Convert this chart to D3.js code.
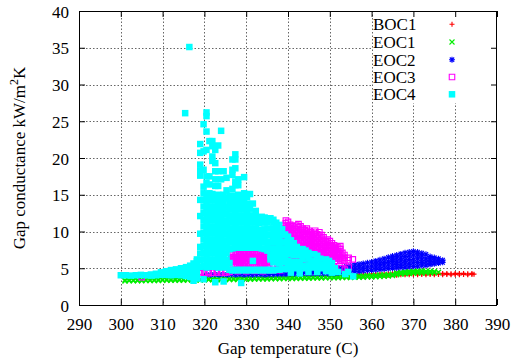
<!DOCTYPE html>
<html><head><meta charset="utf-8">
<script src="https://cdn.jsdelivr.net/npm/d3@7"></script>
<style>body{margin:0;background:#fff}text{font-family:"Liberation Serif","Times New Roman",serif}</style>
</head><body><svg id="chart" width="513" height="364"></svg>
<script>
const xTicks = [290,300,310,320,330,340,350,360,370,380,390];
const yTicks = [0,5,10,15,20,25,30,35,40];
const seriesNames = ["BOC1","EOC1","EOC2","EOC3","EOC4"];
const seriesColors = ["#ff0000","#00ee00","#0000ff","#ff00ff","#00ffff"];

// Each column: [gap temperature, conductance values...]
const boc1 = [[356,3.9,4.1],[357,3.95,4.1],[358,3.95,4.15],[359,4.0,4.15],[360,4.0,4.2],[361,4.0,4.15],[362,4.05,4.2],[363,4.0,4.2],[364,4.05,4.25],[365,4.1,4.25],[366,4.05,4.25],[367,4.1,4.3],[368,4.1,4.25],[369,4.1,4.3],[370,4.15,4.3],[371,4.1,4.3],[372,4.15,4.3],[373,4.1,4.3],[374,4.15,4.3],[375,4.1,4.3],[376,4.15,4.3],[377,4.1,4.3],[378,4.15,4.3],[379,4.1,4.25],[380,4.15,4.3],[381,4.1,4.3],[382,4.15,4.3],[383,4.1,4.25],[384,4.15,4.3],[384.5,4.2]];

const eoc1 = [[301,3.28,3.4],[302,3.3,3.42],[303,3.3,3.4],[304,3.31,3.43],[305,3.3,3.42],[306,3.32,3.44],[307,3.33,3.43],[308,3.33,3.45],[309,3.34,3.46],[310,3.35,3.47],[311,3.35,3.46],[312,3.36,3.48],[313,3.37,3.49],[314,3.37,3.5],[315,3.38,3.5],[316,3.39,3.52],[317,3.4,3.52],[318,3.4,3.53],[319,3.41,3.54],[320,3.42,3.55],[321,3.43,3.56],[322,3.43,3.57],[323,3.44,3.58],[324,3.45,3.58],[325,3.46,3.6],[326,3.46,3.6],[327,3.47,3.62],[328,3.48,3.63],[329,3.49,3.64],[330,3.5,3.65],[331,3.51,3.66],[332,3.52,3.67],[333,3.53,3.68],[334,3.54,3.69],[335,3.55,3.7],[336,3.56,3.71],[337,3.57,3.72],[338,3.58,3.73],[339,3.59,3.74],[340,3.6,3.75],[341,3.61,3.76],[342,3.62,3.78],[343,3.63,3.79],[344,3.64,3.8],[345,3.65,3.81],[346,3.66,3.82],[347,3.67,3.84],[348,3.68,3.85],[349,3.69,3.86],[350,3.7,3.88],[351,3.71,3.89],[352,3.72,3.9],[353,3.73,3.91],[354,3.74,3.92],[355,3.75,3.93],[356,3.76,3.94],[357,3.77,3.96],[358,3.78,3.98],[359,3.8,4.0],[360,3.82,4.02],[361,3.84,4.05],[362,3.86,4.08],[363,3.9,4.12],[364,3.95,4.16],[365,4.0,4.2],[366,4.1,4.28,4.4],[367,4.2,4.35,4.5],[368,4.25,4.42,4.55],[369,4.3,4.48,4.6],[370,4.32,4.5,4.62],[371,4.35,4.55,4.65],[372,4.36,4.58,4.66],[373,4.38,4.6],[374,4.4,4.58],[375,4.4,4.55],[376,4.45]];

const eoc2 = [[320.5,4.1],[321.5,4.1],[322.5,4.15],[323.5,4.1],[324.5,4.15],[325.5,4.1],[326.5,4.15],[327.5,4.1],[328.5,4.15],[329.5,4.1],[330.5,4.15],[331.5,4.1],[332.5,4.15],[333.5,4.15],[334.5,4.1],[335.5,4.15],[336.5,4.15],[337.5,4.2],[338.5,4.2],[339.5,4.2],[340.5,4.25,4.6],[341.5,4.25,4.6],[342.5,4.25,4.6],[343.5,4.3,4.6],[344.5,4.3,4.6],[345.5,4.3,4.65],[346.5,4.3,4.65],[347.5,4.3,4.65],[348.5,4.3,4.7],[349.5,4.3,4.7],
[350,4.3,4.65,5.0],[351,4.3,4.65,5.0],[352,4.35,4.7,5.05],[353,4.4,4.75,5.1],[354,4.45,4.85,5.25],[355,4.5,4.9,5.35],[356,4.55,5.0,5.45],[357,4.6,5.05,5.55],[358,4.65,5.15,5.65],[359,4.7,5.2,5.75],[360,4.75,5.3,5.85],[361,4.8,5.2,5.6,6.0],[362,4.85,5.3,5.7,6.15],[363,4.9,5.35,5.8,6.3],[364,4.95,5.45,5.95,6.5],[365,5.0,5.45,5.9,6.3,6.65],[366,5.05,5.5,5.95,6.4,6.8],[367,5.1,5.55,6.0,6.5,6.95],[368,5.15,5.6,6.1,6.6,7.1],[369,5.2,5.7,6.2,6.7,7.2],[370,5.25,5.75,6.25,6.8,7.3],[371,5.3,5.8,6.3,6.8,7.2],[372,5.35,5.8,6.25,6.7,7.05],[373,5.4,5.85,6.3,6.9],[374,5.5,5.9,6.3,6.6],[375,5.6,6.0,6.45],[376,5.7,6.0,6.3],[377,5.8,6.1]];

const eoc3 = [[305,3.8],[315.8,4.35],[317,4.4],[318.2,4.45],[319,4.35,4.55],[320,4.4],[321,4.35,4.55],[322,4.4],[323,4.4,4.6],[324,4.45],[325,4.4,4.6],[326,4.5],
[326.5,5.4,5.9,6.4,6.9],[327,5.5,6.0,6.5,7.0],[327.5,5.4,5.9,6.4,6.9,7.2],[328.5,5.3,5.8,6.2,6.7,7.2],[329.5,5.3,5.8,6.3,6.6,7.1],[330.5,5.3,5.8,6.3,6.8,7.2],[331.5,5.4,5.9,6.4,6.9,7.2],[332.5,5.4,5.9,6.5,7.0,7.2],[333.5,5.3,5.8,6.3,6.7,7.1],[334.5,5.4,5.8,6.2,6.6,7.0],[335.5,5.5,5.9,6.3],
[328,5.6,6.0,6.5,7.0],[329,5.55,6.05,6.45,6.9],[330,5.55,6.05,6.55,6.9],[331,5.6,6.1,6.6,7.0],[332,5.65,6.2,6.7,7.1],[333,5.6,6.05,6.5,6.95],[334,5.6,6.0,6.4,6.8],[335,5.7,6.1,6.5],
[328,4.6],[330,4.6],[332,4.65],[334,4.6],[336,4.7],[338,4.75],
[336.5,5.5,6.1,6.7,7.3,7.9,8.5,9.1],[337.5,5.6,6.2,6.8,7.4,8.0,8.6,9.2,9.8],[338.5,5.6,6.2,6.8,7.4,8.0,8.6,9.2,9.8,10.4],[339.5,5.7,6.3,6.9,7.5,8.1,8.7,9.3,9.9,10.5,11.1,11.5],[340.5,5.7,6.3,6.9,7.5,8.1,8.7,9.3,9.9,10.5,10.9],[341.5,5.8,6.4,7.0,7.6,8.2,8.8,9.4,10.0,10.5],[342.5,5.8,6.4,7.0,7.6,8.2,8.8,9.4,10.0,10.6,11.0],[343.5,5.8,6.4,7.0,7.6,8.2,8.8,9.4,9.9,10.4],[344.5,5.9,6.5,7.1,7.7,8.3,8.9,9.5,10.0,10.4],[345.5,5.9,6.5,7.1,7.7,8.3,8.9,9.4,9.9],[346.5,5.9,6.5,7.1,7.7,8.3,8.8,9.3,9.8,10.1],[347.5,6.0,6.6,7.2,7.8,8.3,8.8,9.3,9.9],[348.5,6.0,6.6,7.2,7.7,8.2,8.7,9.2],[349.5,6.0,6.5,7.0,7.5,8.0,8.5,8.9],[350.5,6.0,6.5,7.0,7.5,8.0,8.4],[351.5,6.0,6.5,7.0,7.5,7.9],[352.5,6.0,6.5,7.0,7.6,8.0],[353.5,6.0,6.4,6.8],[354.5,6.1,6.4],[355.5,6.2],
[337,5.9,6.5,7.1,7.7,8.3,8.9,9.5],[338,5.9,6.5,7.1,7.7,8.3,8.9,9.5,10.1],[339,6.0,6.6,7.2,7.8,8.4,9.0,9.6,10.2,10.8],[340,6.0,6.6,7.2,7.8,8.4,9.0,9.6,10.2,10.8,11.3],[341,6.1,6.7,7.3,7.9,8.5,9.1,9.7,10.3,10.7],[342,6.1,6.7,7.3,7.9,8.5,9.1,9.7,10.3,10.8],[343,6.1,6.7,7.3,7.9,8.5,9.1,9.7,10.2,10.7],[344,6.2,6.8,7.4,8.0,8.6,9.2,9.7,10.2],[345,6.2,6.8,7.4,8.0,8.6,9.2,9.7,10.1],[346,6.2,6.8,7.4,8.0,8.6,9.1,9.6],[347,6.3,6.9,7.5,8.0,8.6,9.1,9.6],[348,6.3,6.9,7.5,8.0,8.5,9.0,9.5],[349,6.3,6.8,7.3,7.8,8.3,8.7],[350,6.3,6.8,7.3,7.8,8.2,8.7],[351,6.3,6.8,7.3,7.7,8.1],[352,6.3,6.8,7.3,7.8],[353,6.2,6.6,7.1],
[341,5.1],[343,5.0],[345,5.2],[347,5.3],[349,5.3],[351,5.2],[352.8,5.0],[353.6,4.8],[354.5,5.1]];

const eoc4 = [[300.0,4.05],[301.2,4.05],[302.4,4.0],[303.6,4.05],[304.8,4.1],[306.0,4.05],[307.2,4.0,4.15],[308.4,4.05,4.25],[309.6,4.1,4.45],[310.8,4.1,4.6],[312.0,4.05,4.55,4.75],[313.2,4.1,4.6,4.85],[314.4,4.05,4.55,5.0],[315.6,3.95,4.45,4.95,5.15],[316.6,3.8,4.3,4.85,5.35],[317.4,3.3,3.9,4.5,5.1,5.65],[318.2,3.6,4.2,4.8,5.4,5.95,6.2],
[315.4,26.1],[316.4,35.1],
[319.0,5.2,6.1,7.0,7.9,9.7,12.1,14.3,17.6,18.3,19.1,20.7,21.9],
[319.8,3.5,5.3,6.2,7.1,8.0,8.9,9.8,10.7,11.6,12.5,13.4,14.3,15.2,16.1,18.4,20.9,24.6],
[320.5,5.1,6.0,6.9,7.8,8.7,9.6,10.5,11.4,12.3,13.2,14.1,15.0,16.6,17.5,21.1,23.6,25.7,26.2],
[321.2,5.3,6.2,7.1,8.0,8.9,9.8,10.7,11.6,12.5,13.4,14.3,15.2,16.4,17.5,22.3],
[321.9,5.2,6.1,7.0,7.9,8.8,9.7,10.6,11.5,12.4,13.3,14.2,15.1,19.6,20.2,21.6,22.3],
[322.6,3.1,5.3,6.2,7.1,8.0,8.9,9.8,10.7,11.6,12.5,13.4,14.3,16.2,17.1,18.2,19.3,21.1],
[323.3,5.1,6.0,6.9,7.8,8.7,9.6,10.5,11.4,12.3,13.2,14.1,15.0,16.2,18.2,21.7],
[324.0,5.3,6.2,7.1,8.0,8.9,9.8,10.7,11.6,12.5,13.4,14.3,17.1,23.7],
[324.6,3.2,5.1,6.0,6.9,7.8,8.7,9.6,10.5,11.4,12.3,13.2,14.1,15.0,18.2],
[325.3,5.2,6.1,7.0,7.9,8.8,9.7,10.6,11.5,12.4,13.3,14.5,15.6,17.3],
[326.0,4.8,5.7,7.6,8.5,9.4,10.3,11.2,12.1,13.0,13.9,14.8],
[326.7,4.7,7.7,8.6,9.5,10.4,11.3,12.2,13.1,14.0,14.9,15.8,17.7,18.4,19.8],
[327.4,4.8,7.8,8.4,9.3,10.2,11.1,12.0,12.9,13.8,14.7,16.3,16.8,18.6,19.8,20.5],
[328.1,4.7,7.8,8.6,9.5,10.4,11.3,12.2,13.1,14.0,15.0,16.3,17.1],
[328.8,3.0,4.8,7.8,8.5,9.4,10.3,11.2,12.1,13.0,13.9,14.8],
[329.5,4.7,7.8,8.6,9.5,10.4,11.3,12.2,13.1,14.0,15.2,17.4],
[330.2,4.8,7.8,8.4,9.3,10.2,11.1,12.0,12.9,13.8,14.7],
[330.9,4.7,7.8,8.6,9.5,10.4,11.3,12.2,13.1,15.1],
[331.6,4.8,6.0,7.8,8.5,9.4,10.3,11.2,12.1,13.8],
[332.3,4.7,7.8,8.6,9.5,10.4,11.3,12.0,12.8],
[333.0,4.8,7.8,8.4,9.3,10.2,11.1,11.9],
[333.7,4.7,7.7,8.6,9.5,11.3,12.0],
[334.4,4.8,7.6,8.5,9.4,10.3,11.2,11.9],
[335.1,4.7,7.4,8.2,8.6,9.5,10.4,11.3,11.8],
[335.8,4.8,6.2,6.8,7.7,8.6,9.5,10.4,11.8],
[336.5,4.7,5.8,6.7,7.6,8.5,9.4,10.3,11.2,11.6],
[337.2,4.8,5.9,6.8,7.7,8.6,9.5,10.4,11.2],
[337.9,4.8,5.7,6.6,7.5,8.4,9.3,10.2,10.9],
[338.6,4.9,5.9,6.8,7.7,8.6,9.5,10.3],
[339.3,4.9,5.8,6.7,7.6,8.5,9.6],
[340.0,5.1,6.0,6.9,7.8,8.7,9.3],
[340.7,4.4,5.3,7.1,8.0,8.8],
[341.4,5.0,5.9,6.8,7.7,8.4],
[342.1,5.2,7.0,7.9],
[342.8,4.3,5.0,5.9,6.8,7.6],
[343.5,5.3,6.2,7.1,7.6],
[344.2,5.0,6.8,7.4],
[344.9,4.5,5.4,6.3,7.1],
[345.6,5.1,6.0,6.9],
[346.3,5.3,6.9],
[347.0,4.5,5.2,6.1,6.7],
[347.7,5.5,6.3],
[348.4,5.0],
[349.1,4.6,5.5,6.2],
[349.8,5.2,6.0],
[350.5,4.4,5.7],
[351.2,5.0],[352.0,4.5],[353.7,4.2],[354.4,4.5],[355.6,3.9]];

const seriesData = [boc1, eoc1, eoc2, eoc3, eoc4];

const W = 513, H = 364;
const m = {left: 79, right: 497, top: 11, bottom: 305};
const svg = d3.select("#chart");
const x = d3.scaleLinear().domain([290, 390]).range([m.left, m.right]);
const y = d3.scaleLinear().domain([0, 40]).range([m.bottom, m.top]);

// grid
const grid = svg.append("g").attr("stroke", "#666").attr("stroke-width", 1).attr("stroke-dasharray", "1.5,2");
grid.selectAll("line.gx").data(xTicks.slice(1, -1)).join("line")
  .attr("x1", d => Math.round(x(d)) + 0.5).attr("x2", d => Math.round(x(d)) + 0.5)
  .attr("y1", m.top).attr("y2", m.bottom);
grid.selectAll("line.gy").data(yTicks.slice(1, -1)).join("line")
  .attr("y1", d => Math.round(y(d)) + 0.5).attr("y2", d => Math.round(y(d)) + 0.5)
  .attr("x1", m.left).attr("x2", m.right);

// key area hides grid
svg.append("rect").attr("x", 373).attr("y", m.top + 1).attr("width", m.right - 373 - 1).attr("height", 91).attr("fill", "#fff");

const flat = cols => cols.flatMap(c => c.slice(1).map(g => [c[0], g]));

const symbols = [
  {d: "M-2.5,0H2.5M0,-2.5V2.5", fill: false, sw: 1.2},
  {d: "M-2.5,-2.5L2.5,2.5M-2.5,2.5L2.5,-2.5", fill: false, sw: 1.4},
  {d: "M-3,0H3M0,-3V3M-2.2,-2.2L2.2,2.2M-2.2,2.2L2.2,-2.2", fill: false, sw: 1.1},
  {d: "M-2.75,-2.75H2.75V2.75H-2.75Z", fill: false, sw: 1.2},
  {d: "M-3.25,-3.25H3.25V3.25H-3.25Z", fill: true, sw: 0}
];

seriesData.forEach((cols, i) => {
  const s = symbols[i];
  const g = svg.append("g");
  g.selectAll("path").data(flat(cols)).join("path")
    .attr("transform", d => `translate(${x(d[0])},${y(d[1])})`)
    .attr("d", s.d)
    .attr("fill", s.fill ? seriesColors[i] : "none")
    .attr("stroke", s.fill ? "none" : seriesColors[i])
    .attr("stroke-width", s.sw);
});

// axes with inward ticks
const axB = svg.append("g").attr("transform", `translate(0,${m.bottom})`)
  .call(d3.axisBottom(x).tickValues(xTicks).tickSizeInner(-6).tickSizeOuter(0).tickPadding(13));
const axT = svg.append("g").attr("transform", `translate(0,${m.top})`)
  .call(d3.axisTop(x).tickValues(xTicks).tickSizeInner(-6).tickSizeOuter(0).tickFormat(""));
const axL = svg.append("g").attr("transform", `translate(${m.left},0)`)
  .call(d3.axisLeft(y).tickValues(yTicks).tickSizeInner(-6).tickSizeOuter(0).tickPadding(10));
const axR = svg.append("g").attr("transform", `translate(${m.right},0)`)
  .call(d3.axisRight(y).tickValues(yTicks).tickSizeInner(-6).tickSizeOuter(0).tickFormat(""));
[axB, axT, axL, axR].forEach(a => {
  a.select(".domain").remove();
  a.selectAll("line").attr("stroke", "#000");
  a.selectAll("text").attr("font-size", 17).attr("fill", "#000")
    .style("font-family", '"Liberation Serif", serif');
});
axL.selectAll("text").attr("dy", "0.36em");

svg.append("rect").attr("x", m.left + 0.5).attr("y", m.top + 0.5)
  .attr("width", m.right - m.left - 1).attr("height", m.bottom - m.top)
  .attr("fill", "none").attr("stroke", "#000").attr("stroke-width", 1);

// titles
svg.append("text").attr("x", (m.left + m.right) / 2).attr("y", 354)
  .attr("text-anchor", "middle").attr("font-size", 17).text("Gap temperature (C)");
const yt = svg.append("text").attr("transform", `translate(25,${(m.top + m.bottom) / 2}) rotate(-90)`)
  .attr("text-anchor", "middle").attr("font-size", 17);
yt.append("tspan").text("Gap conductance kW/m");
yt.append("tspan").attr("font-size", 12).attr("dy", -7).text("2");
yt.append("tspan").attr("dy", 7).text("K");

// legend
const ly = [24.3, 42, 59.7, 77, 94.3];
seriesNames.forEach((n, i) => {
  svg.append("text").attr("x", 373).attr("y", ly[i] + 5.8).attr("font-size", 17).text(n);
  const s = symbols[i];
  svg.append("path").attr("transform", `translate(452,${ly[i]})`).attr("d", s.d)
    .attr("fill", s.fill ? seriesColors[i] : "none")
    .attr("stroke", s.fill ? "none" : seriesColors[i]).attr("stroke-width", Math.min(s.sw, 1.1) || 1);
});
</script></body></html>
